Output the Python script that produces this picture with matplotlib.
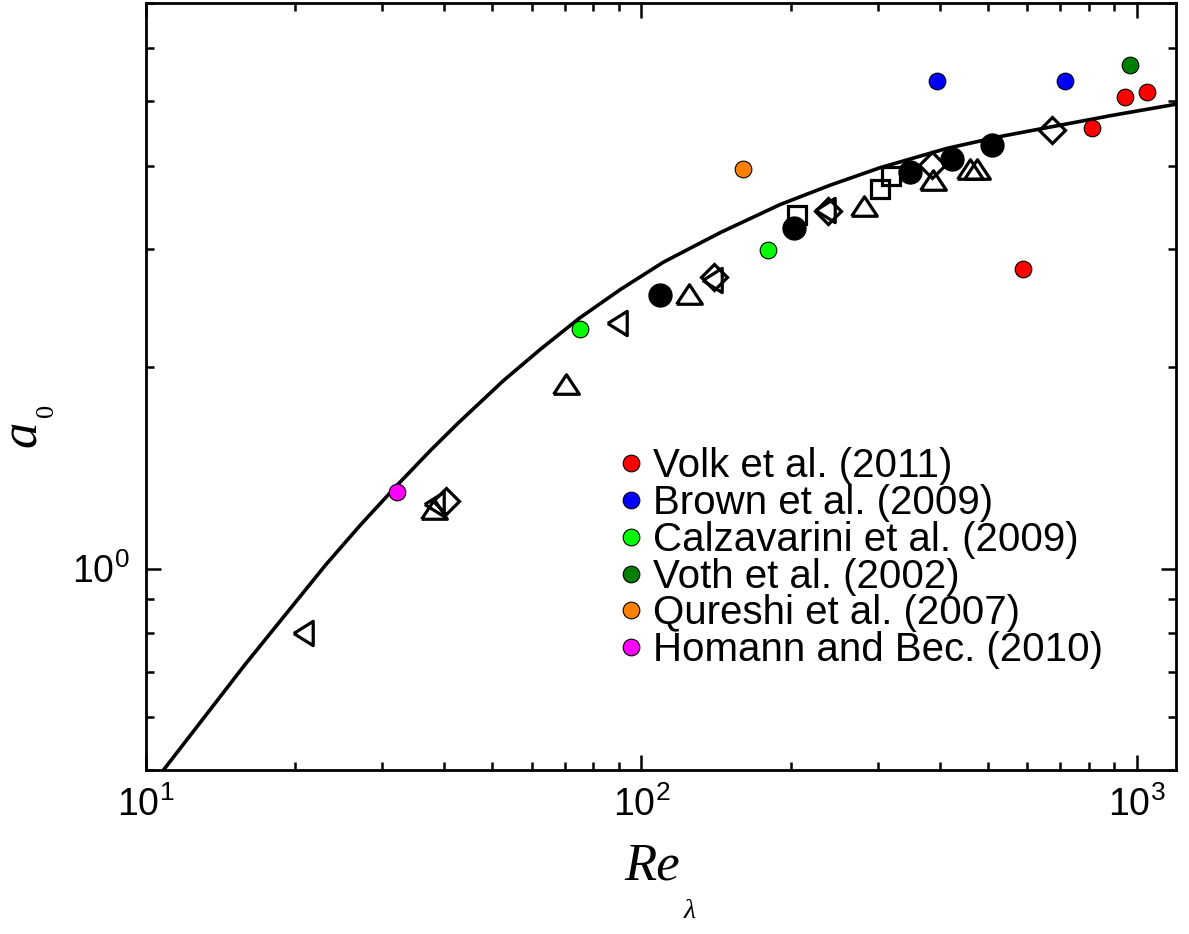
import matplotlib
matplotlib.use("Agg")
import matplotlib.pyplot as plt
from matplotlib.ticker import LogLocator, NullFormatter, LogFormatterSciNotation

# ---------------- DATA ----------------
# model curve
curve_re = [10.87, 15.83, 23.06, 27.13, 32.22, 37.54, 42.57, 52.71, 62.57, 74.99, 90.70,
            110.8, 144.3, 190.6, 240.5, 303.4, 414.0, 529.3, 658.4, 894.3, 1198]
curve_a0 = [0.501, 0.718, 1.013, 1.163, 1.335, 1.502, 1.647, 1.910, 2.127, 2.367, 2.612,
            2.870, 3.177, 3.499, 3.740, 3.972, 4.245, 4.421, 4.558, 4.757, 4.940]

# black open / filled symbols (no legend entry)
circ_re = [109, 203, 349, 424, 510]
circ_a0 = [2.56, 3.23, 3.91, 4.09, 4.30]

tri_up_re = [38.1, 70.3, 125, 282, 388, 460, 475]
tri_up_a0 = [1.228, 1.885, 2.575, 3.48, 3.81, 3.95, 3.95]

tri_left_re = [20.7, 38.1, 89.4, 139, 235]
tri_left_a0 = [0.80, 1.25, 2.33, 2.70, 3.43]

diam_re = [40.3, 140, 238, 386, 674]
diam_a0 = [1.262, 2.73, 3.42, 4.01, 4.52]

sq_re = [206, 303, 319]
sq_a0 = [3.38, 3.69, 3.86]

# coloured literature points
lit_labels = ["Volk et al. (2011)", "Brown et al. (2009)", "Calzavarini et al. (2009)",
              "Voth et al. (2002)", "Qureshi et al. (2007)", "Homann and Bec. (2010)"]
lit_colors = ["#ff0000", "#0000ff", "#00ff00", "#007f00", "#ff8000", "#ff00ff"]
lit_re = [[811, 946, 1047, 589], [395, 716], [75.0, 180], [968], [160], [32.1]]
lit_a0 = [[4.56, 5.06, 5.16, 2.80], [5.36, 5.36], [2.28, 2.99], [5.66], [3.95], [1.30]]
# ---------------------------------------

plt.rcParams['font.family'] = ['Liberation Sans', 'DejaVu Sans']

fig = plt.figure(figsize=(11.89, 9.34), dpi=100)
ax = fig.add_axes([0.1228, 0.1756, 0.8663, 0.8212])

ax.plot(curve_re, curve_a0, color="black", lw=2.6, zorder=2)

tri_up = [(-1, -0.76), (1, -0.76), (0, 0.76), (-1, -0.76)]
tri_left = [(-0.8, 0), (0.8, 1), (0.8, -1), (-0.8, 0)]
open_kw = dict(ls="none", mfc="none", mec="black", mew=2.3, zorder=3)

ax.plot(tri_up_re, tri_up_a0, marker=tri_up, ms=18.5, **open_kw)
ax.plot(tri_left_re, tri_left_a0, marker=tri_left, ms=17.5, **open_kw)
ax.plot(diam_re, diam_a0, marker="D", ms=13.5, **open_kw)
ax.plot(sq_re, sq_a0, marker="s", ms=13, **open_kw)
ax.plot(circ_re, circ_a0, ls="none", marker="o", ms=16.5, mfc="black", mec="black", zorder=4)

for lab, col, xs, ys in zip(lit_labels, lit_colors, lit_re, lit_a0):
    ax.plot(xs, ys, ls="none", marker="o", ms=12, mfc=col, mec="black", mew=0.8,
            label=lab, zorder=5)

ax.set_xscale("log")
ax.set_yscale("log")
ax.set_xlim(10, 1200)
ax.set_ylim(0.5, 7)

ax.xaxis.set_major_locator(LogLocator(base=10, numticks=10))
ax.xaxis.set_minor_locator(LogLocator(base=10, subs=range(2, 10), numticks=20))
ax.yaxis.set_major_locator(LogLocator(base=10, numticks=10))
ax.yaxis.set_minor_locator(LogLocator(base=10, subs=range(2, 10), numticks=20))
ax.xaxis.set_major_formatter(LogFormatterSciNotation())
ax.yaxis.set_major_formatter(LogFormatterSciNotation())
ax.xaxis.set_minor_formatter(NullFormatter())
ax.yaxis.set_minor_formatter(NullFormatter())

ax.tick_params(which="both", direction="in", top=True, right=True, width=1.8, labelsize=27)
ax.tick_params(which="major", length=11)
ax.tick_params(which="minor", length=6)
ax.tick_params(axis="x", pad=12)
ax.tick_params(axis="y", pad=12)
for s in ax.spines.values():
    s.set_linewidth(2.0)

# axis labels: italic serif letter + small, low subscript
serif_it = dict(family="Liberation Serif", style="italic")
ax.set_xlabel("Re", fontsize=38, **serif_it)
ax.xaxis.set_label_coords(0.4917, -0.095)
ax.text(0.528, -0.185, "λ", transform=ax.transAxes, fontsize=20, ha="center", va="center",
        **serif_it)

ax.set_ylabel("a", fontsize=38, **serif_it)
ax.yaxis.set_label_coords(-0.0966, 0.4387)
ax.text(-0.0966, 0.469, "0", transform=ax.transAxes, fontsize=19, rotation=90,
        ha="center", va="center", family="Liberation Serif")

ax.legend(loc="center left", bbox_to_anchor=(0.459, 0.276), frameon=False, fontsize=29,
          handlelength=0.6, handletextpad=0.26, borderpad=0, borderaxespad=0,
          labelspacing=-0.03)

fig.savefig("out.png", dpi=100)
